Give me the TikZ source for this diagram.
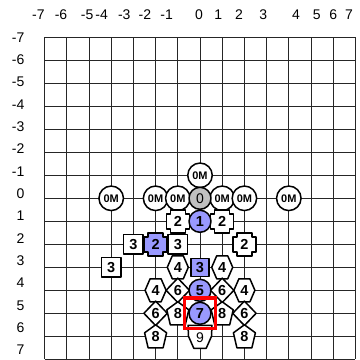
\documentclass[tikz,border=0pt]{standalone}
\usepackage{fontspec}
\setmainfont{Liberation Sans}
\usepackage{tikz}
\usetikzlibrary{shapes.geometric}

\definecolor{pcblue}{HTML}{9999FF}
\definecolor{pcgray}{HTML}{C0C0C0}
\definecolor{selred}{HTML}{FF0000}

\tikzset{
  gridline/.style={draw=black!85, line width=1pt},
  axislbl/.style={inner sep=0pt, font=\fontsize{14}{15}\selectfont},
  pcline/.style={draw=black, line width=1.5pt, line join=round},
  pctext/.style={inner sep=0pt, font=\fontsize{14.5}{15}\selectfont\bfseries},
  omstone/.style={circle, pcline, fill=white, minimum size=24.5pt, inner sep=0pt, font=\fontsize{11}{12}\selectfont\bfseries},
  stone/.style={circle, pcline, fill=#1, minimum size=22pt, inner sep=0pt, font=\fontsize{14.5}{15}\selectfont\bfseries},
  sqpc/.style={rectangle, pcline, fill=#1, minimum size=19.5pt, inner sep=0pt, font=\fontsize{14.5}{15}\selectfont\bfseries},
  diapc/.style={diamond, pcline, fill=white, minimum width=24pt, minimum height=25pt, inner sep=0pt, font=\fontsize{14.5}{15}\selectfont\bfseries},
  selbox/.style={rectangle, draw=selred, line width=3.3pt, minimum size=30.5pt, inner sep=0pt},
  % shapes that need their own outline
  pics/crosspc/.style 2 args={code={
    \filldraw[pcline, fill=#1] (-7.5pt,11.5pt) -- (7.5pt,11.5pt) -- (7.5pt,7.5pt) -- (11.5pt,7.5pt)
      -- (11.5pt,-7.5pt) -- (7.5pt,-7.5pt) -- (7.5pt,-11.5pt) -- (-7.5pt,-11.5pt)
      -- (-7.5pt,-7.5pt) -- (-11.5pt,-7.5pt) -- (-11.5pt,7.5pt) -- (-7.5pt,7.5pt) -- cycle;
    \node[pctext] (-num) at (0,0) {#2};
  }},
  pics/hexpc/.style={code={
    \filldraw[pcline, fill=white] (-10.5pt,0pt) -- (-5.5pt,11.5pt) -- (5.5pt,11.5pt)
      -- (10.5pt,0pt) -- (5.5pt,-11.5pt) -- (-5.5pt,-11.5pt) -- cycle;
    \node[pctext] (-num) at (0,0) {#1};
  }},
  pics/pentpc/.style={code={
    \filldraw[pcline, fill=white] (0pt,11.5pt) -- (11pt,3.5pt) -- (7.5pt,-11.5pt)
      -- (-7.5pt,-11.5pt) -- (-11pt,3.5pt) -- cycle;
    \node[pctext] (-num) at (0,0) {#1};
  }},
  pics/ninepc/.style={code={
    \filldraw[pcline, fill=white] (-12pt,11pt) -- (12pt,11pt) -- (11.5pt,0pt)
      -- (6.2pt,-12pt) -- (-6.2pt,-12pt) -- (-11.5pt,0pt) -- cycle;
    \node[pctext, font=\fontsize{14}{15}\selectfont] (-num) at (0,0.05) {#1};
  }}
}

\begin{document}
\begin{tikzpicture}[x=22.2pt, y=-23pt]
\useasboundingbox (-9.009,-8.622) rectangle (7.162,7.030);

% board
\foreach \i in {-7,...,7}{
  \draw[gridline] (\i,-7) -- (\i,7);
  \draw[gridline] (-7,\i) -- (7,\i);
}

% axis numbers
\foreach \v/\xx in {-7/-7.28, -6/-6.26, -5/-5.08, -4/-4.43, -3/-3.41, -2/-2.48, -1/-1.50,
                   0/-0.05, 1/0.82, 2/1.76, 3/2.85, 4/4.32, 5/5.26, 6/6.0, 7/6.71}
  \node[axislbl] (col\v) at (\xx,-8.0) {\v};
\foreach \v in {-7,...,7}
  \node[axislbl, anchor=east] (row\v) at (-7.905,{0.971*\v-0.2}) {\v};

% pieces
\foreach \c/\r [count=\k] in {0/-1, -4/0, -2/0, -1/0, 1/0, 2/0, 4/0}
  \node[omstone] (om\k) at (\c,\r) {0M};
\node[stone=pcgray, font=\fontsize{14}{15}\selectfont] (p0) at (0,0) {0};

\pic (xa) at (-1,1) {crosspc={white}{2}};
\pic (xb) at (1,1) {crosspc={white}{2}};
\node[stone=pcblue] (p1) at (0,1) {1};

\node[sqpc=white] (sa) at (-3,2) {3};
\pic (xc) at (-2,2) {crosspc={pcblue}{2}};
\node[sqpc=white] (sb) at (-1,2) {3};
\pic (xd) at (2,2) {crosspc={white}{2}};

\node[sqpc=white] (sc) at (-4,3) {3};
\pic (ha) at (-1,3) {hexpc=4};
\node[sqpc=pcblue, minimum size=18pt] (p3) at (0,3) {3};
\pic (hb) at (1,3) {hexpc=4};

\pic (hc) at (-2,4) {hexpc=4};
\node[diapc] (da) at (-1,4) {6};
\node[stone=pcblue] (p5) at (0,4) {5};
\node[diapc] (db) at (1,4) {6};
\pic (hd) at (2,4) {hexpc=4};

\node[diapc] (dc) at (-2,5) {6};
\pic (pa) at (-1,5) {pentpc=8};
\pic (pb) at (1,5) {pentpc=8};
\node[diapc] (dd) at (2,5) {6};

\pic (pc) at (-2,6) {pentpc=8};
\pic (nn) at (0,6) {ninepc=9};
\pic (pd) at (2,6) {pentpc=8};

\node[stone=pcblue] (p7) at (0,5) {7};
\node[selbox] (sel) at (p7) {};

\end{tikzpicture}
\end{document}
